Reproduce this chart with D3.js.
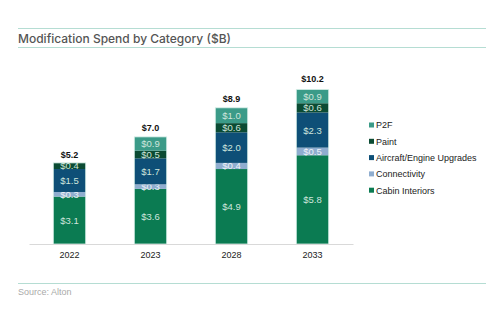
<!DOCTYPE html>
<html>
<head>
<meta charset="utf-8">
<script src="https://cdn.jsdelivr.net/npm/d3@7"></script>
<style>
  body { margin: 0; background: #fff; }
  svg { display: block; }
</style>
</head>
<body>
<svg id="chart" width="500" height="334"></svg>
<script>
// spend per year, $B
const years = ["2022", "2023", "2028", "2033"];
const categories = ["Cabin Interiors", "Connectivity", "Aircraft/Engine Upgrades", "Paint", "P2F"];
const cabin = [3.1, 3.6, 4.9, 5.8];
const connectivity = [0.3, 0.3, 0.4, 0.5];
const upgrades = [1.5, 1.7, 2.0, 2.3];
const paint = [0.4, 0.5, 0.6, 0.6];
const p2f = [0, 0.9, 1.0, 0.9];
const totals = [5.2, 7.0, 8.9, 10.2];

const colors = ["#0b7b52", "#8fadcf", "#0e4f77", "#0b4b33", "#3b9b88"];
const series = [cabin, connectivity, upgrades, paint, p2f];

const svg = d3.select("#chart");
const font = "'Liberation Sans', Arial, sans-serif";

// header rules + title
svg.append("line").attr("x1", 18).attr("x2", 486).attr("y1", 28.5).attr("y2", 28.5)
    .attr("stroke", "#b5ddd3").attr("stroke-width", 1);
svg.append("line").attr("x1", 18).attr("x2", 486).attr("y1", 47.5).attr("y2", 47.5)
    .attr("stroke", "#b5ddd3").attr("stroke-width", 1);
svg.append("text").attr("x", 18).attr("y", 42.5)
    .text("Modification Spend by Category ($B)")
    .style("font-family", "Inter, 'Open Sans', sans-serif")
    .style("font-size", "12px").style("font-weight", 500).style("fill", "#555");

const x = d3.scaleBand().domain(years).range([29, 353]).paddingInner(0.6).paddingOuter(0.3);
const y = d3.scaleLinear().domain([0, 11]).range([244, 244 - 11 * 15.3]);

// stack segments bottom-up
const rows = years.map((yr, i) => {
  const r = {year: yr};
  categories.forEach((c, k) => r[c] = series[k][i]);
  return r;
});
const stacked = d3.stack().keys(categories)(rows);

const g = svg.append("g");
stacked.forEach((layer, k) => {
  layer.forEach((d, i) => {
    const v = d[1] - d[0];
    if (v <= 0) return;
    g.append("rect")
        .attr("x", x(years[i]))
        .attr("y", y(d[1]))
        .attr("width", x.bandwidth())
        .attr("height", y(d[0]) - y(d[1]))
        .attr("fill", colors[k]);
    g.append("text")
        .attr("x", x(years[i]) + x.bandwidth() / 2)
        .attr("y", (y(d[0]) + y(d[1])) / 2 + 3.5)
        .attr("text-anchor", "middle")
        .text("$" + v.toFixed(1))
        .style("font-family", font).style("font-size", "9.5px")
        .style("fill", k === 1 ? "#eef3f8" : "#cfe6dd");
  });
});

// thin light outline round each bar
years.forEach((yr, i) => {
  g.append("rect")
      .attr("x", x(yr)).attr("y", y(d3.sum(series, s => s[i])))
      .attr("width", x.bandwidth())
      .attr("height", y(0) - y(d3.sum(series, s => s[i])))
      .attr("fill", "none").attr("stroke", "#d6eee7").attr("stroke-width", 0.8);
  g.append("text")
      .attr("x", x(yr) + x.bandwidth() / 2)
      .attr("y", y(totals[i]) - 6)
      .attr("text-anchor", "middle")
      .text("$" + totals[i].toFixed(1))
      .style("font-family", font).style("font-size", "9px")
      .style("font-weight", "bold").style("fill", "#111");
});

// x axis
const xAxis = svg.append("g").attr("transform", "translate(0,244)")
    .call(d3.axisBottom(x).tickSize(0).tickPadding(8));
xAxis.select(".domain").attr("stroke", "#d9d9d9");
xAxis.selectAll("text").style("font-family", font).style("font-size", "9px").style("fill", "#222");

// legend, top entry first
const legend = svg.append("g").attr("transform", "translate(369,125)");
categories.slice().reverse().forEach((c, j) => {
  const k = categories.length - 1 - j;
  legend.append("rect").attr("x", 0).attr("y", j * 16.3 - 2.5).attr("width", 5).attr("height", 5)
      .attr("fill", colors[k]);
  legend.append("text").attr("x", 7).attr("y", j * 16.3 + 3.3).text(c)
      .style("font-family", font).style("font-size", "9px").style("fill", "#222");
});

// footer
svg.append("line").attr("x1", 18).attr("x2", 486).attr("y1", 283.5).attr("y2", 283.5)
    .attr("stroke", "#b5ddd3").attr("stroke-width", 1);
svg.append("text").attr("x", 18).attr("y", 295).text("Source: Alton")
    .style("font-family", font).style("font-size", "9px").style("fill", "#aaa");
</script>
</body>
</html>
